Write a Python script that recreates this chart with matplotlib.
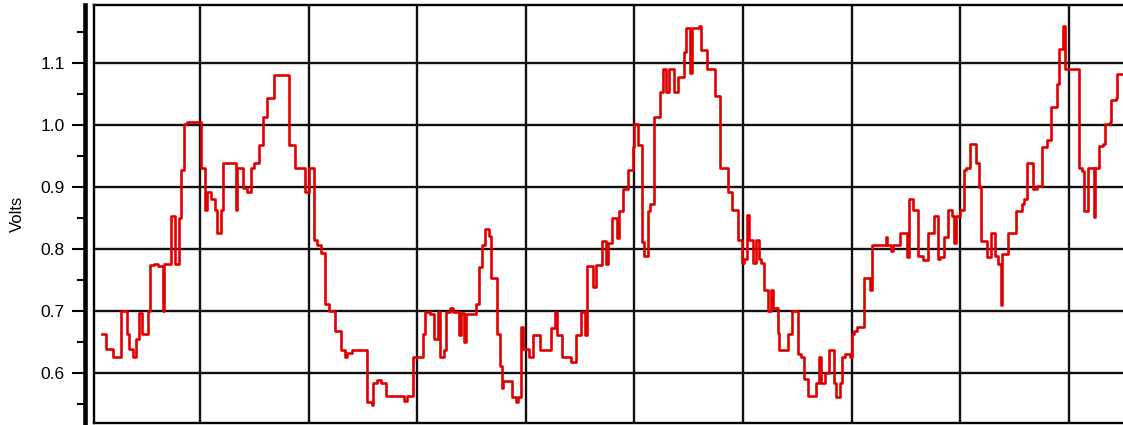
import numpy as np
import matplotlib
matplotlib.use("Agg")
import matplotlib.pyplot as plt
from matplotlib.ticker import MultipleLocator, NullFormatter

plt.rcParams["font.family"] = ["Liberation Sans", "DejaVu Sans"]

# ----------------------------------------
# Data (step starts)
# ----------------------------------------

t = [
    0.095, 0.135, 0.20, 0.273, 0.325, 0.344, 0.38, 0.41, 0.436, 0.466,
    0.525, 0.54, 0.577, 0.617, 0.656, 0.672, 0.73, 0.767, 0.804, 0.822,
    0.856, 0.877, 1.006, 1.043, 1.061, 1.104, 1.138, 1.153, 1.19, 1.209,
    1.331, 1.344, 1.399, 1.436, 1.472, 1.497, 1.54, 1.577, 1.613, 1.68,
    1.822, 1.871, 1.963, 2.006,
    2.052, 2.073, 2.11, 2.153, 2.19, 2.245, 2.297, 2.337, 2.358, 2.404,
    2.542, 2.582, 2.594, 2.634, 2.668, 2.717, 2.879, 2.91, 2.962, 3.054,
    3.069, 3.118, 3.152, 3.188, 3.207, 3.243, 3.262, 3.298, 3.33, 3.384,
    3.403, 3.433, 3.452, 3.538, 3.574, 3.593, 3.629, 3.666, 3.684, 3.733,
    3.764, 3.782, 3.795, 3.874, 3.911, 3.93, 3.96, 3.978,
    4.03, 4.07, 4.131, 4.229, 4.266, 4.284, 4.33, 4.413, 4.459, 4.511,
    4.541, 4.56, 4.615, 4.651, 4.703, 4.743, 4.755, 4.792, 4.841, 4.859,
    4.896, 4.945, 4.988, 5.0, 5.037, 5.073, 5.092, 5.128, 5.147, 5.177,
    5.232, 5.263, 5.294, 5.318, 5.367, 5.401, 5.453, 5.477, 5.508, 5.529,
    5.6, 5.618, 5.673, 5.74,
    5.793, 5.86, 5.903, 5.951, 5.988, 6.006, 6.036, 6.055, 6.091, 6.122,
    6.146, 6.17, 6.195, 6.231, 6.261, 6.28, 6.322, 6.334, 6.419, 6.456,
    6.508, 6.535, 6.565, 6.596, 6.669, 6.705, 6.717, 6.754, 6.79, 6.842,
    6.857, 6.894, 6.912, 6.942, 6.985, 7.003, 7.024, 7.052, 7.119, 7.167,
    7.185, 7.313, 7.325, 7.362, 7.38, 7.45,
    7.508, 7.526, 7.563, 7.612, 7.66, 7.703, 7.758, 7.795, 7.813, 7.856,
    7.893, 7.924, 7.948, 7.962, 8.003, 8.034, 8.058, 8.089, 8.144, 8.174,
    8.193, 8.248, 8.284, 8.321, 8.346, 8.376, 8.388, 8.443, 8.511, 8.566,
    8.59, 8.615, 8.67, 8.706, 8.755, 8.804, 8.841, 8.89, 8.914, 8.945,
    8.963, 9.092, 9.122, 9.141, 9.177, 9.229, 9.245, 9.275, 9.312, 9.336,
    9.378, 9.391, 9.434, 9.446, 9.5,
]

volts = [
    0.662, 0.638, 0.625, 0.700, 0.662, 0.638, 0.625, 0.655, 0.696, 0.662,
    0.700, 0.774, 0.776, 0.773, 0.700, 0.776, 0.853, 0.775, 0.849, 0.927,
    1.002, 1.005, 0.930, 0.863, 0.891, 0.880, 0.863, 0.825, 0.863, 0.939,
    0.863, 0.930, 0.899, 0.891, 0.930, 0.939, 0.967, 1.013, 1.043, 1.081,
    0.967, 0.930, 0.891, 0.930,
    0.814, 0.807, 0.794, 0.711, 0.699, 0.668, 0.637, 0.626, 0.632, 0.637,
    0.553, 0.548, 0.584, 0.589, 0.584, 0.562, 0.555, 0.562, 0.625, 0.662,
    0.698, 0.695, 0.655, 0.698, 0.625, 0.637, 0.698, 0.704, 0.698, 0.661,
    0.697, 0.649, 0.695, 0.711, 0.770, 0.807, 0.832, 0.820, 0.753, 0.663,
    0.611, 0.575, 0.587, 0.561, 0.553, 0.561, 0.674, 0.638,
    0.625, 0.661, 0.637, 0.673, 0.698, 0.661, 0.625, 0.618, 0.661, 0.698,
    0.661, 0.772, 0.739, 0.774, 0.813, 0.775, 0.810, 0.849, 0.818, 0.861,
    0.896, 0.927, 0.965, 1.001, 0.967, 0.811, 0.788, 0.861, 0.872, 1.013,
    1.053, 1.090, 1.053, 1.090, 1.053, 1.078, 1.118, 1.157, 1.084, 1.157,
    1.159, 1.121, 1.090, 1.046,
    0.931, 0.891, 0.863, 0.814, 0.777, 0.783, 0.854, 0.814, 0.777, 0.814,
    0.783, 0.777, 0.733, 0.699, 0.733, 0.704, 0.664, 0.637, 0.663, 0.699,
    0.631, 0.625, 0.590, 0.562, 0.584, 0.625, 0.584, 0.600, 0.637, 0.584,
    0.561, 0.584, 0.625, 0.631, 0.625, 0.663, 0.668, 0.674, 0.753, 0.733,
    0.807, 0.819, 0.807, 0.796, 0.807, 0.826,
    0.787, 0.881, 0.862, 0.788, 0.782, 0.825, 0.853, 0.783, 0.787, 0.819,
    0.862, 0.853, 0.810, 0.853, 0.862, 0.927, 0.930, 0.970, 0.939, 0.900,
    0.813, 0.787, 0.826, 0.788, 0.775, 0.709, 0.791, 0.825, 0.861, 0.872,
    0.881, 0.939, 0.897, 0.901, 0.965, 0.975, 1.029, 1.066, 1.122, 1.159,
    1.091, 0.930, 0.926, 0.861, 0.931, 0.852, 0.931, 0.966, 0.969, 1.001,
    1.005, 1.041, 1.044, 1.082, 1.082,
]

y_ticks = [0.6, 0.7, 0.8, 0.9, 1.0, 1.1]
x_grid = [1, 2, 3, 4, 5, 6, 7, 8, 9]

# ----------------------------------------
# Figure
# ----------------------------------------

fig = plt.figure(figsize=(11.23, 4.25), dpi=100)
ax = fig.add_axes([94 / 1123, 2 / 425, 1029 / 1123, 418 / 425])

ax.set_xlim(0.024, 9.5)
ax.set_ylim(0.519, 1.1935)

for xg in x_grid:
    ax.axvline(xg, color="#111111", lw=1.7, zorder=1)
for yg in y_ticks:
    ax.axhline(yg, color="#111111", lw=1.7, zorder=1)

ax.step(t, volts, where="post", color="#e00000", lw=1.9, zorder=3)

# thin inner frame line on the left
ax.axvline(0.024, color="black", lw=1.7, clip_on=False, zorder=4)

# thick outer axis bar with the ticks
ax.spines["left"].set_position(("outward", 6.5))
ax.spines["left"].set_linewidth(3.3)
ax.spines["right"].set_visible(False)
ax.spines["top"].set_linewidth(1.7)
ax.spines["bottom"].set_linewidth(1.7)

ax.set_yticks(y_ticks)
ax.set_yticklabels([f"{v:.1f}" for v in y_ticks])
ax.yaxis.set_minor_locator(MultipleLocator(0.05))
ax.yaxis.set_minor_formatter(NullFormatter())
ax.tick_params(axis="y", which="major", direction="out", length=9.5,
               width=1.5, labelsize=12.5, pad=5)
ax.tick_params(axis="y", which="minor", direction="out", length=6,
               width=1.5)
ax.set_xticks([])

ax.set_ylabel("Volts", fontsize=12, labelpad=11)

plt.savefig("out.png", dpi=100)
